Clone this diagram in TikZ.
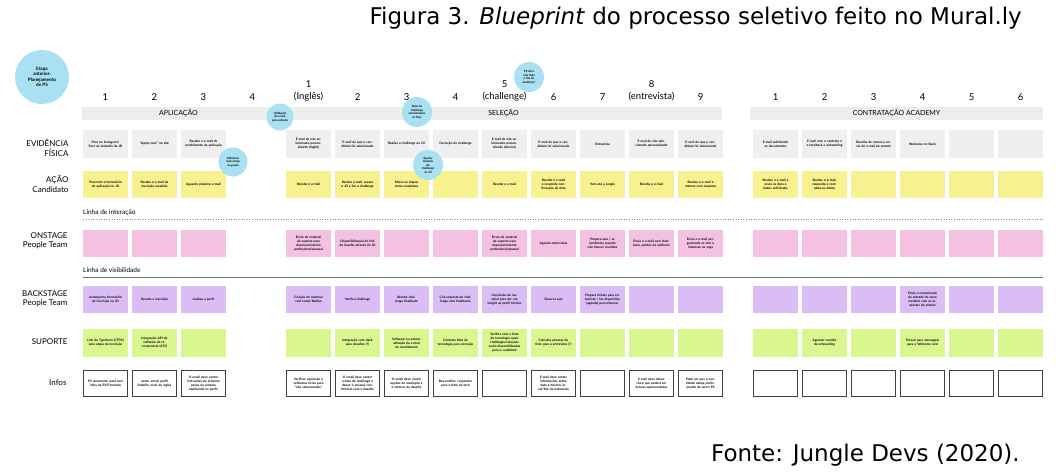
\documentclass[tikz,border=0pt]{standalone}
\usepackage{fontspec}
\setmainfont{Lato}
\newfontfamily\capfont{DejaVu Sans}
\usetikzlibrary{positioning}

\definecolor{evidgray}{HTML}{EFEFEF}
\definecolor{bargray}{HTML}{EDEDED}
\definecolor{acaoyellow}{HTML}{F7F18F}
\definecolor{onpink}{HTML}{F5C1E3}
\definecolor{backlilac}{HTML}{DBBDF5}
\definecolor{supgreen}{HTML}{DAF78F}
\definecolor{notablue}{HTML}{A9E0F2}

\tikzset{
  cell/.style={minimum width=45pt, minimum height=27.5pt, text width=37pt,
    align=center, inner sep=1pt, font=\fontsize{3.2}{4}\selectfont\bfseries},
  evid/.style={cell, fill=evidgray},
  acao/.style={cell, fill=acaoyellow},
  onst/.style={cell, fill=onpink},
  back/.style={cell, fill=backlilac},
  supo/.style={cell, fill=supgreen},
  infobox/.style={cell, draw=black!75, line width=0.8pt, fill=white,
    minimum width=44pt, minimum height=26.5pt},
  nota/.style={circle, fill=notablue, align=center, inner sep=0pt,
    font=\fontsize{2.9}{3.5}\selectfont\bfseries},
  rowlabel/.style={anchor=east, align=right, font=\fontsize{8}{9.5}\selectfont},
  colnum/.style={font=\fontsize{9.5}{11}\selectfont},
  phasebar/.style={fill=bargray, minimum height=13pt, inner sep=0pt,
    font=\fontsize{7}{8}\selectfont},
  linelabel/.style={anchor=west, inner sep=0pt, font=\fontsize{6.5}{7.5}\selectfont}
}

\begin{document}
\begin{tikzpicture}[x=1pt, y=-1pt]
\useasboundingbox (0,0) rectangle (1056,474);

% legenda
\node[anchor=east, inner sep=0pt, font=\capfont\fontsize{23}{26}\selectfont] (titulo) at (1022,18)
  {Figura 3. \textit{Blueprint} do processo seletivo feito no Mural.ly};
\node[anchor=east, inner sep=0pt, font=\capfont\fontsize{23}{26}\selectfont] (fonte) at (1020,455)
  {Fonte: Jungle Devs (2020).};

% fases
\node[phasebar, minimum width=193pt] (fase-a) at (178.5,113.5) {APLICAÇÃO};
\node[phasebar, minimum width=437pt] (fase-s) at (503.5,113.5) {SELEÇÃO};
\node[phasebar, minimum width=293pt] (fase-c) at (896.5,113.5) {CONTRATAÇÃO ACADEMY};

% numeros das etapas
\foreach \n [count=\i] in {1,2,3,4}
  \node[colnum] (num-a\i) at ({105.5+49*(\i-1)},97) {\n};
\foreach \n [count=\i] in {(Inglês),2,3,4,(challenge),6,7,(entrevista),9}
  \node[colnum] (num-s\i) at ({308.5+49*(\i-1)},97) {\n};
\node[colnum] (num-s1b) at (308.5,84) {1};
\node[colnum] (num-s5b) at (504.5,84) {5};
\node[colnum] (num-s8b) at (651.5,84) {8};
\foreach \n [count=\i] in {1,2,3,4,5,6}
  \node[colnum] (num-c\i) at ({775.5+49*(\i-1)},97) {\n};

% rotulos das linhas
\node[rowlabel] (r-evid) at (72,148) {EVIDÊNCIA\\FÍSICA};
\node[rowlabel] (r-acao) at (72,184) {AÇÃO\\Candidato};
\node[rowlabel] (r-onst) at (71,241) {ONSTAGE\\People Team};
\node[rowlabel] (r-back) at (71,299) {BACKSTAGE\\People Team};
\node[rowlabel] (r-supo) at (71,342) {SUPORTE};
\node[rowlabel] (r-info) at (70,383) {Infos};

% evidencia fisica
\foreach \t [count=\i] in {{Post no Instagram/ Post no LinkedIn da JD},
    {“Apply now” no site}, {Recebe o e-mail de recebimento da aplicação}}
  \node[evid] (ev-a\i) at ({105.5+49*(\i-1)},144) {\t};
\foreach \t [count=\i] in {{E-mail de não selecionado personalizado (Inglês)},
    {E-mail de que o candidato foi selecionado}, {Realiza o challenge no JD},
    {Correção do challenge}, {E-mail de não selecionado personalizado (técnico)},
    {E-mail de que o candidato foi selecionado}, {Entrevista},
    {E-mail de não selecionado personalizado},
    {E-mail de que o candidato foi selecionado}}
  \node[evid] (ev-s\i) at ({308.5+49*(\i-1)},144) {\t};
\foreach \t [count=\i] in {{E-mail solicitando os documentos},
    {E-mail com o contrato e o feedback e onboarding},
    {Recolha de nomes e envio do e-mail de sorteio}, {Welcome no Slack}, {}, {}}
  \node[evid] (ev-c\i) at ({775.5+49*(\i-1)},144) {\t};

% acao candidato
\foreach \t [count=\i] in {{Preenche o formulário de aplicação no JD},
    {Recebe o e-mail de inscrição recebida}, {Aguarda próximo e-mail}}
  \node[acao] (ac-a\i) at ({105.5+49*(\i-1)},184.5) {\t};
\foreach \t [count=\i] in {{Recebe o e-mail},
    {Recebe e-mail, acessa o JD e faz o challenge},
    {Marca as etapas como completas}, {}, {Recebe o e-mail},
    {Recebe o e-mail e responde confirmação da data}, {Vem até a Jungle},
    {Recebe o e-mail}, {Recebe o e-mail e retorna com resposta}}
  \node[acao] (ac-s\i) at ({308.5+49*(\i-1)},184.5) {\t};
\foreach \t [count=\i] in {{Recebe o e-mail e envia os docs e dados solicitados},
    {Recebe o e-mail, responde e completa os dados}, {}, {}, {}, {}}
  \node[acao] (ac-c\i) at ({775.5+49*(\i-1)},184.5) {\t};

% linha de interacao
\node[linelabel] (l-inter) at (83,213) {Linha de interação};
\coordinate (inter-l) at (83,219);
\coordinate (inter-r) at (1043,219);
\draw[black!45, dotted, line width=0.6pt] (inter-l) -- (inter-r);

% onstage
\foreach \t [count=\i] in {{}, {}, {}}
  \node[onst] (on-a\i) at ({105.5+49*(\i-1)},243.5) {\t};
\foreach \t [count=\i] in {{Envio de material de suporte para desenvolvimento profissional/pessoal},
    {Disponibilização do link do desafio através do JD}, {}, {},
    {Envio de material de suporte para desenvolvimento profissional/pessoal},
    {Agenda entrevistas},
    {Prepara sala / se familiariza quando não houver reuniões},
    {Envia o e-mail com feedback, pontos de melhoria},
    {Envia o e-mail perguntando se tem o interesse na vaga}}
  \node[onst] (on-s\i) at ({308.5+49*(\i-1)},243.5) {\t};
\foreach \t [count=\i] in {{}, {}, {}, {}, {}, {}}
  \node[onst] (on-c\i) at ({775.5+49*(\i-1)},243.5) {\t};

% linha de visibilidade
\node[linelabel] (l-visib) at (83,270) {Linha de visibilidade};
\coordinate (visib-l) at (83,277);
\coordinate (visib-r) at (1043,277);
\draw[black!55, line width=0.8pt] (visib-l) -- (visib-r);

% backstage
\foreach \t [count=\i] in {{Acompanha formulário de inscrição no JD},
    {Recebe a inscrição}, {Analisa o perfil}}
  \node[back] (ba-a\i) at ({105.5+49*(\i-1)},299.5) {\t};
\foreach \t [count=\i] in {{Criação do material com Loom/Notion},
    {Verifica challenge}, {Recebe challenge finalizado},
    {Cria resposta do challenge com feedbacks},
    {Conclusão de material para dar um insight ao perfil técnico},
    {Reserva sala},
    {Prepara tickets para entrevista / faz dispositivo (agenda) para oferecer},
    {}, {}}
  \node[back] (ba-s\i) at ({308.5+49*(\i-1)},299.5) {\t};
\foreach \t [count=\i] in {{}, {}, {},
    {Envia o comunicado da entrada do novo membro com as respostas do sorteio},
    {}, {}}
  \node[back] (ba-c\i) at ({775.5+49*(\i-1)},299.5) {\t};

% suporte
\foreach \t [count=\i] in {{Link do Typeform (CTPA) para etapa de inscrição},
    {Integração API do software de recrutamento (ATS)}, {}}
  \node[supo] (su-a\i) at ({105.5+49*(\i-1)},343) {\t};
\foreach \t [count=\i] in {{}, {Integração com slack para desafios (?)},
    {Software ou automatização de e-mail de recebimento},
    {Contrata time de tecnologia para correção},
    {Verifica com o time de tecnologia quais challenges/soluções serão disponibilizadas para o candidato},
    {Consulta pessoas do time para a entrevista (?)}, {}, {}, {}}
  \node[supo] (su-s\i) at ({308.5+49*(\i-1)},343) {\t};
\foreach \t [count=\i] in {{}, {Agendar reunião de onboarding}, {},
    {Thread para mensagem para o Welcome card}, {}, {}}
  \node[supo] (su-c\i) at ({775.5+49*(\i-1)},343) {\t};

% infos
\foreach \t [count=\i] in {{PS recorrente, pool com infos de EVP/Jornada},
    {nome, email, perfil linkedin, nível de inglês},
    {O email deve conter instruções do próximo passo ou sistema explicando os perfis}}
  \node[infobox] (in-a\i) at ({105.5+49*(\i-1)},383.5) {\t};
\foreach \t [count=\i] in {{Verificar aquisição e softwares livres para “não selecionados”},
    {O email deve conter a data do challenge e deixar o pessoal confortável com o desafio},
    {O email deve conter opções de resolução e o retorno do desafio},
    {Boa prática: responder para o time de tech}, {},
    {E-mail deve conter informações sobre data e horário, local/link da entrevista},
    {}, {E-mail deve deixar claro que poderá ter futuras oportunidades},
    {Pode ser que o candidato esteja participando de outro PS}}
  \node[infobox] (in-s\i) at ({308.5+49*(\i-1)},383.5) {\t};
\foreach \t [count=\i] in {{}, {}, {}, {}, {}, {}}
  \node[infobox] (in-c\i) at ({775.5+49*(\i-1)},383.5) {\t};

% notas (circulos)
\node[nota, minimum size=54pt, font=\fontsize{4.6}{5.5}\selectfont\bfseries] (n-etapa) at (42,77)
  {Etapa\\anterior:\\Planejamento\\de PS};
\node[nota, minimum size=27pt] (n-valid) at (280,117) {Validação\\do envio\\para seleção};
\node[nota, minimum size=29pt] (n-grupo) at (233,162) {Adicionar\\mais etapa\\no grupo};
\node[nota, minimum size=30pt] (n-nota) at (417,112) {Nota do\\challenge\\selecionados\\se tiver};
\node[nota, minimum size=30pt] (n-ajuste) at (428,165) {Ajustar\\máximo\\do\\challenge\\no JD};
\node[nota, minimum size=30pt] (n-academy) at (529,77) {PS ultra\\vale todo\\o fim do\\academy?};

\end{tikzpicture}
\end{document}
